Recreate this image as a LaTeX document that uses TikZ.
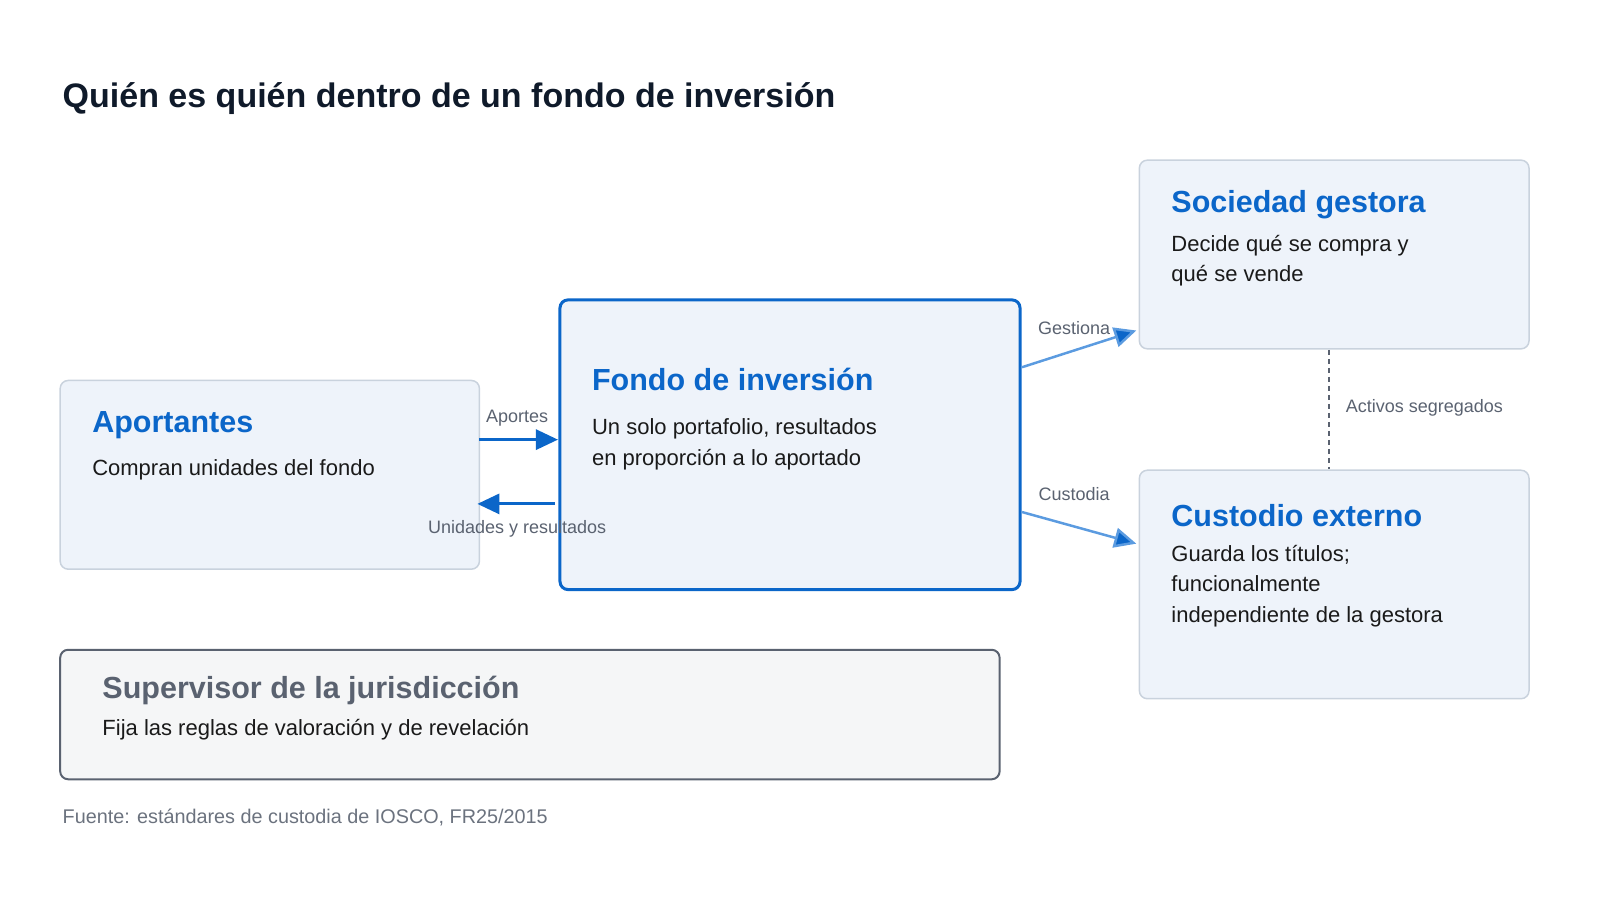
\documentclass[tikz,border=0pt]{standalone}
\usepackage{fontspec}
\setmainfont{Liberation Sans}
\usetikzlibrary{arrows.meta}
\definecolor{blu}{HTML}{0B66C9}
\definecolor{lblu}{HTML}{5B9BE0}
\definecolor{boxf}{HTML}{EEF3FA}
\definecolor{boxd}{HTML}{C9D2DD}
\definecolor{gry}{HTML}{5A6270}
\definecolor{txt}{HTML}{1A1A1A}
\definecolor{ttl}{HTML}{0F1A2A}
\begin{document}
\begin{tikzpicture}[x=1.02pt,y=-1.02pt,
  box/.style={draw=boxd,line width=1.5pt,fill=boxf,rounded corners=8pt},
  hd/.style={anchor=west,text=blu,font=\bfseries\fontsize{30.5}{34}\selectfont},
  bd/.style={anchor=north west,text=txt,font=\fontsize{22}{30.5}\selectfont,align=left},
  lb/.style={text=gry,font=\fontsize{18}{21}\selectfont},
  ar/.style={line width=3pt,draw=blu,-{Triangle[length=22pt,width=20pt]}},
  ar2/.style={line width=2.5pt,draw=lblu,-{Triangle[length=22pt,width=20pt,fill=blu]}}]
\useasboundingbox (0,0) rectangle (1568.6,882.4);
\node[anchor=west,text=ttl,font=\bfseries\fontsize{34}{38}\selectfont] (title) at (58,97) {Quién es quién dentro de un fondo de inversión};
\draw[box] (59,373) rectangle (470,558);
\node[hd] (h1) at (87,417) {Aportantes};
\node[bd] (b1) at (87,447) {Compran unidades del fondo};
\draw[blu,line width=3pt,fill=boxf,rounded corners=8pt] (549,294) rectangle (1000,578);
\node[hd] (h2) at (577,372) {Fondo de inversión};
\node[bd] (b2) at (577,407) {Un solo portafolio, resultados\\en proporción a lo aportado};
\draw[box] (1117,157) rectangle (1499,342);
\node[hd] (h3) at (1145,201) {Sociedad gestora};
\node[bd] (b3) at (1145,227) {Decide qué se compra y\\qué se vende};
\draw[box] (1117,461) rectangle (1499,685);
\node[hd] (h4) at (1145,505) {Custodio externo};
\node[bd] (b4) at (1145,531) {Guarda los títulos;\\funcionalmente\\independiente de la gestora};
\draw[gry,line width=2pt,fill=boxf!70!gray!20,rounded corners=8pt] (59,637) rectangle (980,764);
\node[hd,text=gry] (h5) at (97,677) {Supervisor de la jurisdicción};
\node[bd] (b5) at (97,702) {Fija las reglas de valoración y de revelación};
\coordinate (a1) at (470,431); \coordinate (a2) at (547,431);
\draw[ar] (a1) -- (a2);
\node[lb] (la) at (507,410) {Aportes};
\coordinate (u1) at (544,494); \coordinate (u2) at (468,494);
\draw[ar] (u1) -- (u2);
\node[lb] (lu) at (507,518) {Unidades y resultados};
\coordinate (g1) at (1002,360); \coordinate (g2) at (1114,324);
\draw[ar2] (g1) -- (g2);
\node[lb] (lg) at (1053,322) {Gestiona};
\coordinate (c1) at (1002,502); \coordinate (c2) at (1114,533);
\draw[ar2] (c1) -- (c2);
\node[lb] (lc) at (1053,484) {Custodia};
\coordinate (d1) at (1303,343); \coordinate (d2) at (1303,460);
\draw[gry,line width=1.5pt,dash pattern=on 5pt off 4pt] (d1) -- (d2);
\node[lb,anchor=west] (ld) at (1316,400) {Activos segregados};
\node[anchor=west,text=gry!90,font=\fontsize{19.8}{23}\selectfont] (src) at (58,801) {Fuente: estándares de custodia de IOSCO, FR25/2015};
\end{tikzpicture}
\end{document}
